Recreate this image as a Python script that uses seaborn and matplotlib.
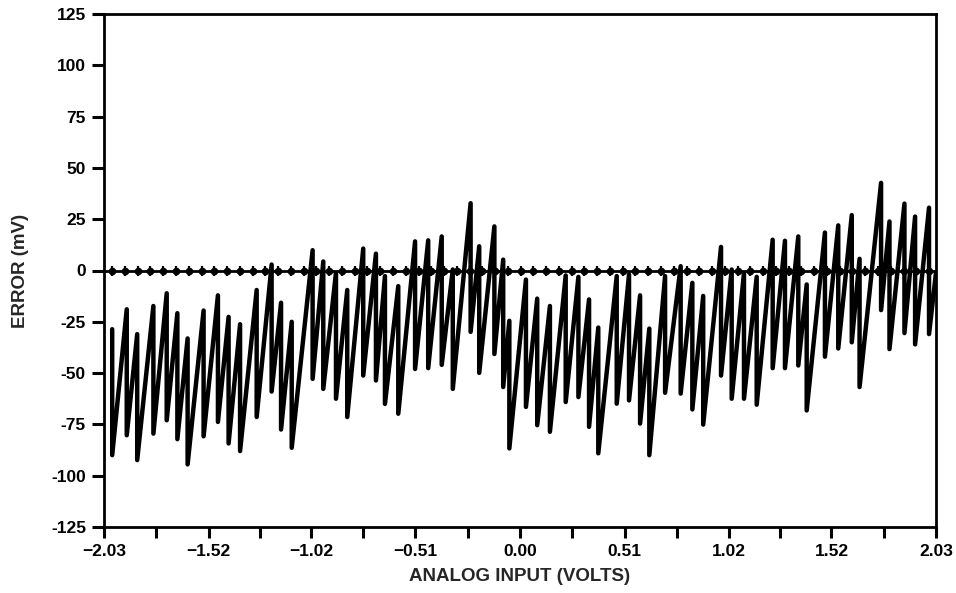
import numpy as np
import pandas as pd
import matplotlib
matplotlib.use("Agg")
import matplotlib.pyplot as plt
import seaborn as sns

# ---- data ----
# x position (volts) of each sawtooth transition, the peak error reached just
# before the transition and the low error just after it (mV)
tooth_x = [-1.990, -1.919, -1.868, -1.789, -1.724, -1.672, -1.622, -1.544,
           -1.474, -1.422, -1.366, -1.285, -1.212, -1.166, -1.114, -1.012,
           -0.960, -0.898, -0.843, -0.765, -0.703, -0.659, -0.594, -0.512,
           -0.448, -0.382, -0.328, -0.241, -0.199, -0.125, -0.082, -0.052,
           0.029, 0.084, 0.146, 0.223, 0.285, 0.337, 0.382, 0.472,
           0.532, 0.586, 0.631, 0.708, 0.784, 0.841, 0.894, 0.981,
           1.033, 1.093, 1.155, 1.233, 1.293, 1.358, 1.399, 1.488,
           1.553, 1.619, 1.657, 1.762, 1.803, 1.876, 1.928, 1.996]
tooth_peak = [-28.6, -18.9, -31.0, -17.3, -11.1, -20.8, -33.1, -19.5,
              -12.1, -22.6, -26.2, -9.5, 2.9, -15.7, -25.0, 9.9,
              4.4, -1.1, -9.5, 10.7, 8.2, -2.7, -7.6, 14.2,
              14.7, 16.6, 0.5, 32.8, 11.8, 21.5, 5.3, -24.5,
              -4.4, -13.7, -17.3, -2.4, -3.1, -14.1, -27.8, -2.7,
              -1.9, -12.1, -28.3, -2.7, 2.1, -6.0, -12.4, 11.5,
              0.5, -1.1, -3.1, 15.0, 14.5, 16.6, -6.8, 18.5,
              22.0, 27.0, 5.7, 42.7, 23.9, 32.6, 26.3, 30.6]
tooth_low = [-90.0, -80.3, -92.4, -79.5, -73.0, -82.2, -94.5, -80.8,
             -73.8, -84.3, -88.0, -71.4, -59.0, -77.5, -86.4, -52.8,
             -57.7, -62.5, -71.4, -51.2, -53.6, -65.0, -69.8, -48.0,
             -47.6, -46.0, -57.7, -29.9, -49.9, -40.7, -56.8, -86.7,
             -66.5, -75.4, -78.6, -64.1, -61.7, -76.2, -89.1, -64.9,
             -63.3, -74.6, -90.0, -59.6, -60.0, -67.7, -75.1, -51.2,
             -62.5, -62.5, -65.4, -47.6, -47.6, -46.3, -68.2, -42.0,
             -38.0, -35.0, -56.8, -19.3, -38.3, -30.5, -36.0, -31.0]
end_x = 2.03
end_err = -1.0

x_range = [-2.03, 2.03]
x_tick_vals = [-2.03, -1.52, -1.02, -0.51, 0.00, 0.51, 1.02, 1.52, 2.03]
x_tick_labels = ["\u22122.03", "\u22121.52", "\u22121.02", "\u22120.51", "0.00",
                 "0.51", "1.02", "1.52", "2.03"]
y_tick_vals = [-125, -100, -75, -50, -25, 0, 25, 50, 75, 100, 125]
y_tick_labels = ["-125", "-100", "-75", "-50", "-25", "0", "25", "50", "75",
                 "100", "125"]
n_code_marks = 65
x_label = "ANALOG INPUT (VOLTS)"
y_label = "ERROR (mV)"

# ---- build the sawtooth path (vertical drop at each transition) ----
px, py = [], []
for xv, pk, lo in zip(tooth_x, tooth_peak, tooth_low):
    px += [xv, xv]
    py += [pk, lo]
px.append(end_x)
py.append(end_err)
saw = pd.DataFrame({"volts": px, "error": py})

marks_x = np.linspace(tooth_x[0], tooth_x[-1], n_code_marks)
zero_df = pd.DataFrame({"volts": marks_x, "error": np.zeros(n_code_marks)})

# ---- style ----
sns.set_style("ticks")
plt.rcParams["font.family"] = ["Liberation Sans", "DejaVu Sans"]
plt.rcParams["font.weight"] = "bold"

fig = plt.figure(figsize=(9.56, 5.93), dpi=100)
ax = fig.add_axes([104 / 956, 1 - 527 / 593, 832 / 956, 513 / 593])

# zero reference line with code markers
ax.plot(x_range, [0, 0], color="black", lw=2.0, zorder=2)
sns.lineplot(data=zero_df, x="volts", y="error", ax=ax, color="black",
             linestyle="none", marker="o", markersize=5.5,
             markeredgewidth=0, markerfacecolor="black",
             estimator=None, sort=False, zorder=3)
sns.lineplot(data=zero_df, x="volts", y="error", ax=ax, color="black",
             linestyle="none", marker="|", markersize=7,
             markeredgewidth=1.6, markeredgecolor="black",
             estimator=None, sort=False, zorder=3)

# sawtooth error curve
sns.lineplot(data=saw, x="volts", y="error", ax=ax, color="black",
             lw=3.2, estimator=None, sort=False, zorder=4,
             solid_joinstyle="round", solid_capstyle="round")

ax.set_xlim(*x_range)
ax.set_ylim(-125, 125)

minor = [(a + b) / 2 for a, b in zip(x_tick_vals[:-1], x_tick_vals[1:])]
ax.set_xticks(x_tick_vals)
ax.set_xticklabels(x_tick_labels)
ax.set_xticks(minor, minor=True)
ax.set_yticks(y_tick_vals)
ax.set_yticklabels(y_tick_labels)

ax.tick_params(axis="x", which="both", direction="out", length=8, width=2.2,
               labelsize=12.5, pad=4, colors="black")
ax.tick_params(axis="y", which="both", direction="out", length=9, width=2.2,
               labelsize=12.5, pad=4, colors="black")
for lab in ax.get_xticklabels() + ax.get_yticklabels():
    lab.set_fontweight("bold")

for sp in ax.spines.values():
    sp.set_visible(True)
    sp.set_linewidth(2.0)
    sp.set_color("black")

ax.set_xlabel(x_label, fontsize=13.5, fontweight="bold", labelpad=7)
ax.set_ylabel(y_label, fontsize=13.5, fontweight="bold", labelpad=16)

fig.savefig("out.png", dpi=100, facecolor="white")
